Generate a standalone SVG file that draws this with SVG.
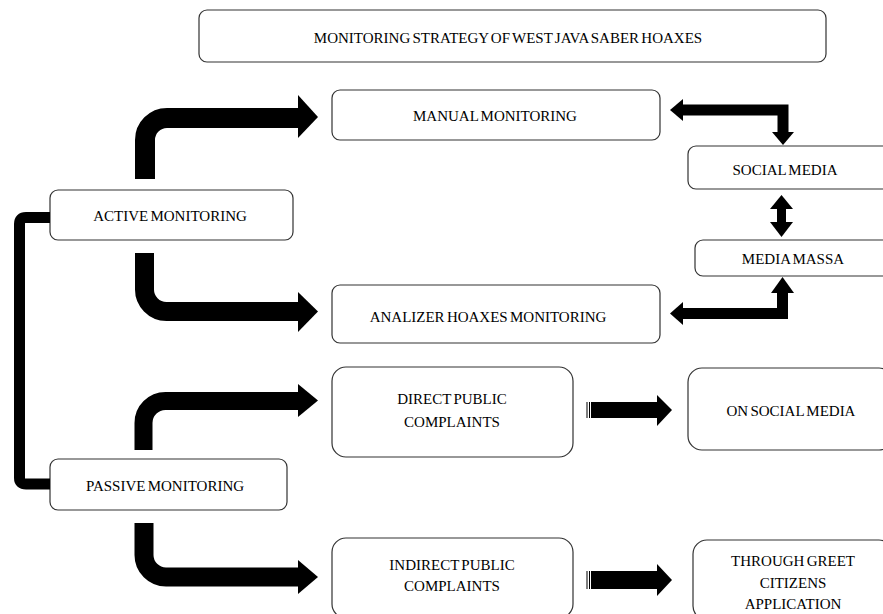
<svg xmlns="http://www.w3.org/2000/svg" width="883" height="614" viewBox="0 0 883 614">
<style>
.box{fill:#fff;stroke:#333;stroke-width:1.2}
.t{font-family:"Liberation Serif","Times New Roman",serif;font-size:15px;word-spacing:-1.5px;fill:#000;text-anchor:middle;dominant-baseline:central}
.band{fill:none;stroke:#000}
.head{fill:#000}
</style>
<rect width="883" height="614" fill="#fff"/>
<g id="title"><rect class="box" x="199" y="10" width="627" height="52" rx="8"/><text class="t" x="508" y="38">MONITORING STRATEGY OF WEST JAVA SABER HOAXES</text></g>
<g id="manual"><rect class="box" x="332" y="90" width="328" height="50" rx="8"/><text class="t" x="495" y="116">MANUAL MONITORING</text></g>
<g id="social"><rect class="box" x="688" y="146" width="205" height="43" rx="8"/><text class="t" x="785" y="170">SOCIAL MEDIA</text></g>
<g id="massa"><rect class="box" x="695" y="240" width="198" height="36" rx="8"/><text class="t" x="793" y="259">MEDIA MASSA</text></g>
<g id="active"><rect class="box" x="50" y="190" width="243" height="50" rx="8"/><text class="t" x="170" y="216">ACTIVE MONITORING</text></g>
<g id="analizer"><rect class="box" x="332" y="285" width="328" height="58" rx="8"/><text class="t" x="488" y="317">ANALIZER HOAXES MONITORING</text></g>
<g id="direct"><rect class="box" x="332" y="367" width="241" height="90" rx="14"/><text class="t" x="452" y="399">DIRECT PUBLIC</text><text class="t" x="452" y="422">COMPLAINTS</text></g>
<g id="onsocial"><rect class="box" x="688" y="368" width="205" height="82" rx="14"/><text class="t" x="791" y="411">ON SOCIAL MEDIA</text></g>
<g id="passive"><rect class="box" x="50" y="459" width="237" height="51" rx="8"/><text class="t" x="165" y="486">PASSIVE MONITORING</text></g>
<g id="indirect"><rect class="box" x="332" y="538" width="241" height="80" rx="14"/><text class="t" x="452" y="565">INDIRECT PUBLIC</text><text class="t" x="452" y="586">COMPLAINTS</text></g>
<g id="greet"><rect class="box" x="693" y="540" width="200" height="80" rx="14"/><text class="t" x="793" y="561">THROUGH GREET</text><text class="t" x="793" y="583">CITIZENS</text><text class="t" x="793" y="604">APPLICATION</text></g>
<g id="connectors">
<path class="band" stroke-width="11" d="M50,217.5 H26 Q19.5,217.5 19.5,224 V478 Q19.5,484 26,484 H50"/>
<path class="band" stroke-width="20" d="M145,179 V140 A22,22 0 0 1 167,118 H299"/>
<polygon class="head" points="298,95 318,117 298,138"/>
<path class="band" stroke-width="19" d="M144.5,253 V289 A22,22 0 0 0 166.5,311.5 H299"/>
<polygon class="head" points="298,292 318,311.5 298,332"/>
<path class="band" stroke-width="18" d="M143.5,450 V423 A22,22 0 0 1 165.5,401 H299"/>
<polygon class="head" points="298,384 318,400.5 298,417"/>
<path class="band" stroke-width="19" d="M144,523 V555 A22,22 0 0 0 166,577 H299"/>
<polygon class="head" points="298,560 318,577 298,594"/>
<path class="band" stroke-width="11" d="M682,110 H783 V133"/>
<polygon class="head" points="670,110 683,99 683,121"/>
<polygon class="head" points="772,132 794,132 783,145"/>
<path class="band" stroke-width="11" d="M682,313.5 H782.5 V292"/>
<polygon class="head" points="670,313.5 683,302 683,325"/>
<polygon class="head" points="771,293 794,293 782.5,277"/>
<rect class="head" x="777" y="208" width="9" height="16"/>
<polygon class="head" points="770,209 793,209 781.5,195"/>
<polygon class="head" points="770,222 793,222 781.5,237"/>
<rect class="head" x="586.5" y="402" width="1" height="16"/>
<rect class="head" x="589" y="402" width="1" height="16"/>
<rect class="head" x="591" y="402" width="67" height="16"/>
<polygon class="head" points="657,395 672,410 657,426"/>
<rect class="head" x="586.5" y="571" width="1" height="18"/>
<rect class="head" x="589" y="571" width="1" height="18"/>
<rect class="head" x="591" y="571" width="67" height="18"/>
<polygon class="head" points="657,564 672,580 657,596"/>
</g>
</svg>
